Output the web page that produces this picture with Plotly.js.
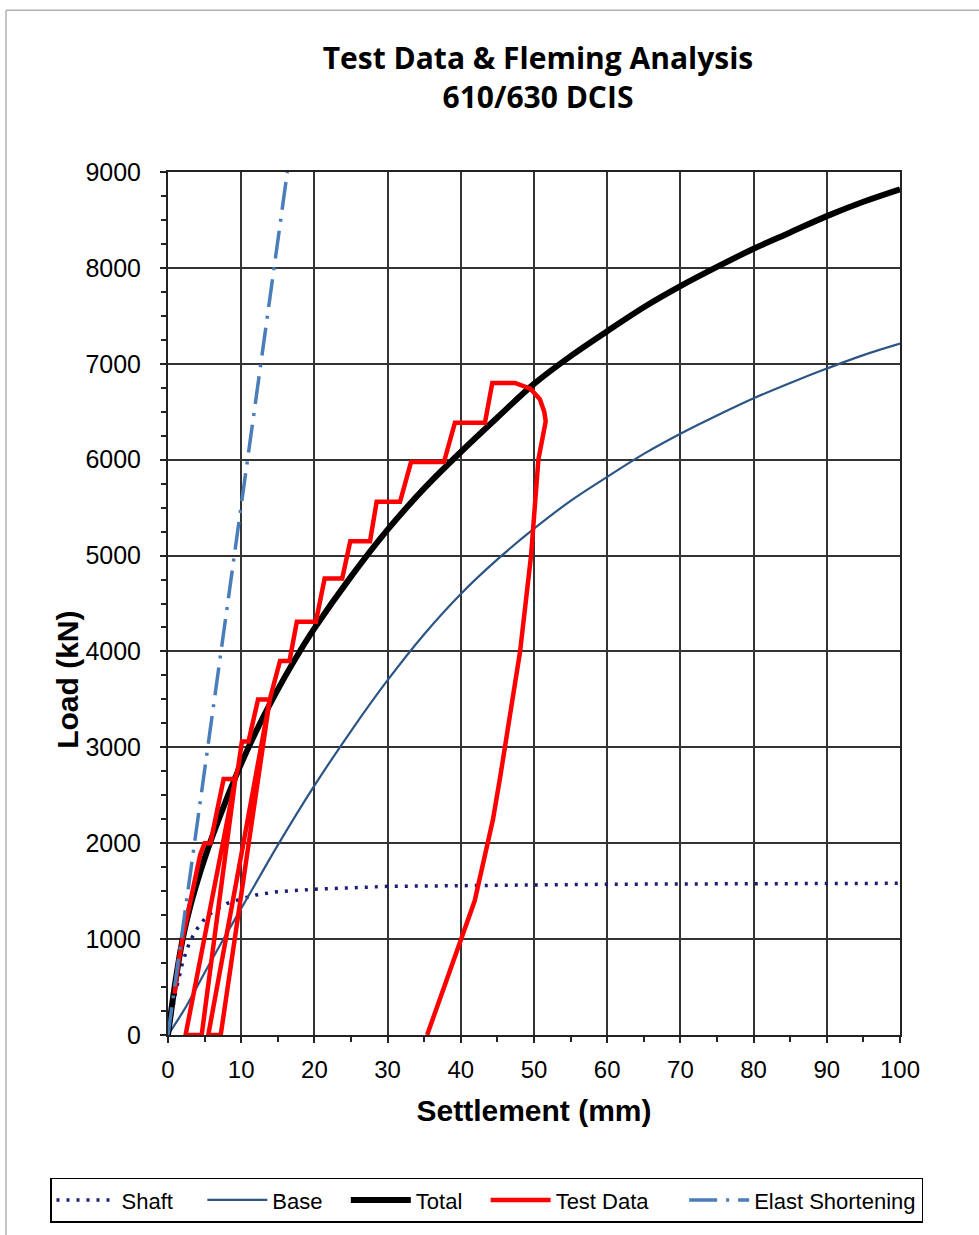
<!DOCTYPE html>
<html>
<head>
<meta charset="utf-8">
<script src="https://cdn.plot.ly/plotly-3.0.1.min.js"></script>
<style>html,body{margin:0;padding:0;background:#fff;}#chart{width:979px;height:1235px;}</style>
</head>
<body>
<div id="chart"></div>
<script>
// Settlement (mm) / Load (kN) values
const shaftX = [0,1,2,3,4,5,6,8,10,12,15,20,30,40,50,60,70,80,90,100];
const shaftY = [0,430,760,980,1110,1210,1280,1370,1420,1460,1495,1520,1550,1560,1567,1572,1575,1578,1580,1582];

const baseX = [0,2.5,5,7.5,10,12.5,15,20,25,30,35,40,45,50,55,60,65,70,75,80,85,90,95,100];
const baseY = [0,300,650,990,1320,1650,1980,2600,3170,3700,4180,4600,4960,5280,5570,5820,6060,6270,6460,6640,6800,6950,7090,7210];

const totalX = [0,1,2,3,4,5,6,8,10,12,14,16,18,20,25,30,35,40,45,50,55,60,65,70,75,80,85,90,95,100];
const totalY = [0,550,1000,1330,1600,1840,2060,2460,2830,3160,3460,3740,4000,4240,4780,5270,5700,6080,6440,6790,7080,7340,7590,7810,8010,8200,8370,8540,8690,8820];

const testX = [0.9,1.4,2.1,2.9,3.7,4.4,5.0,5.8,6.6,7.6,9.2,2.4,4.6,9.2,9.6,10.1,11.0,12.3,13.9,5.5,7.2,13.9,15.3,16.6,17.6,20.2,21.4,23.8,24.9,27.6,28.5,31.7,33.2,37.7,39.2,43.3,44.3,47.4,49.5,50.8,51.4,51.6,50.6,49.6,48.1,46.7,45.4,44.4,41.9,35.4];
const testY = [430,750,1050,1350,1650,1880,2000,2000,2300,2670,2670,0,0,2670,2800,3060,3060,3500,3500,0,0,3500,3900,3900,4310,4310,4760,4760,5150,5150,5560,5560,5975,5975,6385,6385,6800,6800,6740,6630,6500,6400,6000,5000,4000,3300,2700,2250,1400,0];

const elastX = [0,5,10,16.3];
const elastY = [0,2760,5520,9000];

const xTickVals = [0,10,20,30,40,50,60,70,80,90,100];
const yTickVals = [0,1000,2000,3000,4000,5000,6000,7000,8000,9000];
const seriesNames = ['Shaft', 'Base', 'Total', 'Test Data', 'Elast Shortening'];

// legend spacing pads (non-breaking spaces) so entries spread like the reference box
const pad = n => '\u00a0'.repeat(n);
const legendPads = [4, 3, 3, 5, 0];

const traces = [
  {x: shaftX, y: shaftY, mode: 'lines', line: {color: '#1c1c78', width: 3.5, dash: '3px,7px'}},
  {x: baseX, y: baseY, mode: 'lines', line: {color: '#2c5585', width: 2.2, shape: 'spline'}},
  {x: totalX, y: totalY, mode: 'lines', line: {color: '#000000', width: 6, shape: 'spline'}},
  {x: testX, y: testY, mode: 'lines', line: {color: '#ff0000', width: 4.5}},
  {x: elastX, y: elastY, mode: 'lines', line: {color: '#4a7ebb', width: 3.5, dash: '28px,9px,3px,9px'}}
].map((t, i) => Object.assign(t, {name: seriesNames[i] + pad(legendPads[i]), hovertemplate: '%{x} mm, %{y} kN<extra>' + seriesNames[i] + '</extra>'}));

const px = v => (v - 168) / 732;
const py = v => (1037 - v) / 865;

const layout = {
  width: 979, height: 1235,
  margin: {l: 168, r: 79, t: 172, b: 198},
  paper_bgcolor: '#ffffff', plot_bgcolor: '#ffffff',
  showlegend: true,
  title: {
    text: '<b>Test Data & Fleming Analysis<br>610/630 DCIS</b>',
    x: 538/979, xanchor: 'center', xref: 'container',
    y: 1 - 69/1235, yanchor: 'top', yref: 'container',
    font: {family: 'Open Sans, sans-serif', size: 30, color: '#000'}
  },
  xaxis: {
    range: [0, 100], tickvals: xTickVals, ticktext: xTickVals.map(String),
    showgrid: true, gridcolor: '#333333', gridwidth: 2,
    showline: true, linecolor: '#222', linewidth: 2, mirror: true,
    ticks: 'outside', ticklen: 6, tickcolor: '#222', tickwidth: 1.5,
    minor: {dtick: 5, ticks: 'outside', ticklen: 5, tickcolor: '#222', showgrid: false},
    zeroline: false,
    tickfont: {family: 'Liberation Sans, Arial, sans-serif', size: 24, color: '#000'},
    ticklabelstandoff: 6,
    title: {text: '<b>Settlement (mm)</b>', standoff: 18,
      font: {family: 'Liberation Sans, Arial, sans-serif', size: 30, color: '#000'}}
  },
  yaxis: {
    range: [0, 9000], tickvals: yTickVals, ticktext: yTickVals.map(String),
    showgrid: true, gridcolor: '#333333', gridwidth: 2,
    showline: true, linecolor: '#222', linewidth: 2, mirror: true,
    ticks: 'outside', ticklen: 6, tickcolor: '#222', tickwidth: 1.5,
    minor: {dtick: 250, ticks: 'outside', ticklen: 5, tickcolor: '#222', showgrid: false},
    zeroline: false,
    tickfont: {family: 'Liberation Sans, Arial, sans-serif', size: 25, color: '#000'},
    ticklabelstandoff: 14
  },
  annotations: [
    {text: '<b>Load (kN)</b>', xref: 'paper', yref: 'paper', x: px(68), y: py(681),
     textangle: -90, showarrow: false, xanchor: 'center', yanchor: 'middle',
     font: {family: 'Liberation Sans, Arial, sans-serif', size: 30, color: '#000'}}
  ],
  legend: {
    orientation: 'h', x: px(50), y: py(1180), xanchor: 'left', yanchor: 'top',
    bordercolor: '#000', borderwidth: 1.5, bgcolor: '#fff',
    font: {family: 'Liberation Sans, Arial, sans-serif', size: 22, color: '#000'},
    itemwidth: 60, traceorder: 'normal'
  },
  shapes: [
    {type: 'line', xref: 'paper', yref: 'paper', x0: px(6), x1: px(6), y0: py(10), y1: py(1240), line: {color: '#b0b0b0', width: 1.5}},
    {type: 'line', xref: 'paper', yref: 'paper', x0: px(6), x1: px(990), y0: py(10), y1: py(10), line: {color: '#b0b0b0', width: 1.5}}
  ]
};

Plotly.newPlot('chart', traces, layout, {displayModeBar: false, responsive: false});
</script>
</body>
</html>
